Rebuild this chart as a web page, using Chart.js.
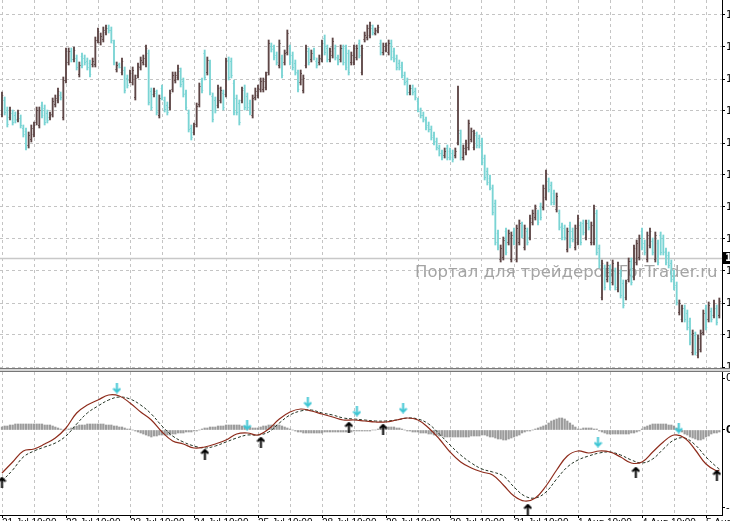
<!DOCTYPE html>
<html>
<head>
<meta charset="utf-8">
<script src="https://cdn.jsdelivr.net/npm/chart.js@4.4.0/dist/chart.umd.min.js"></script>
<style>
html, body { margin: 0; padding: 0; background: #fff; overflow: hidden; }
canvas { display: block; }
</style>
</head>
<body>
<canvas id="priceChart" width="730" height="370"></canvas>
<canvas id="oscChart" width="730" height="151"></canvas>
<script>
// bars, one per hour
var highs = [1.3908,1.3903,1.3893,1.3893,1.3890,1.3888,1.3890,1.3885,1.3875,1.3872,
1.3868,1.3875,1.3878,1.3893,1.3893,1.3898,1.3895,1.3890,1.3888,1.3902,
1.3905,1.3912,1.3908,1.3923,1.3952,1.3952,1.3952,1.3953,1.3945,1.3938,
1.3947,1.3945,1.3942,1.3940,1.3942,1.3963,1.3972,1.3967,1.3973,1.3975,
1.3975,1.3973,1.3960,1.3938,1.3937,1.3942,1.3933,1.3925,1.3930,1.3933,
1.3925,1.3937,1.3943,1.3945,1.3955,1.3950,1.3912,1.3912,1.3910,1.3905,
1.3915,1.3903,1.3898,1.3910,1.3928,1.3928,1.3935,1.3932,1.3922,1.3910,
1.3890,1.3875,1.3877,1.3897,1.3917,1.3922,1.3950,1.3943,1.3940,1.3907,
1.3903,1.3915,1.3913,1.3910,1.3942,1.3943,1.3942,1.3920,1.3905,1.3900,
1.3913,1.3915,1.3907,1.3900,1.3905,1.3912,1.3915,1.3922,1.3922,1.3928,
1.3960,1.3957,1.3955,1.3948,1.3960,1.3945,1.3950,1.3970,1.3955,1.3948,
1.3940,1.3930,1.3930,1.3925,1.3955,1.3952,1.3950,1.3952,1.3942,1.3945,
1.3960,1.3965,1.3955,1.3952,1.3962,1.3955,1.3945,1.3955,1.3955,1.3955,
1.3950,1.3948,1.3955,1.3955,1.3960,1.3955,1.3968,1.3975,1.3978,1.3975,
1.3972,1.3975,1.3960,1.3957,1.3957,1.3960,1.3960,1.3952,1.3945,1.3940,
1.3938,1.3928,1.3922,1.3915,1.3915,1.3912,1.3902,1.3892,1.3888,1.3883,
1.3878,1.3874,1.3868,1.3862,1.3855,1.3850,1.3852,1.3855,1.3852,1.3850,
1.3852,1.3914,1.3870,1.3855,1.3860,1.3880,1.3872,1.3870,1.3868,1.3865,
1.3862,1.3845,1.3832,1.3825,1.3815,1.3800,1.3770,1.3755,1.3763,1.3772,
1.3770,1.3768,1.3772,1.3775,1.3780,1.3778,1.3775,1.3772,1.3785,1.3790,
1.3795,1.3790,1.3797,1.3815,1.3830,1.3822,1.3818,1.3810,1.3807,1.3790,
1.3777,1.3775,1.3772,1.3778,1.3772,1.3775,1.3785,1.3778,1.3780,1.3780,
1.3780,1.3778,1.3795,1.3790,1.3755,1.3740,1.3735,1.3738,1.3735,1.3740,
1.3732,1.3738,1.3730,1.3720,1.3720,1.3742,1.3742,1.3755,1.3760,1.3765,
1.3772,1.3760,1.3768,1.3772,1.3762,1.3768,1.3760,1.3768,1.3765,1.3752,
1.3748,1.3740,1.3730,1.3718,1.3700,1.3695,1.3695,1.3690,1.3682,1.3670,
1.3668,1.3665,1.3670,1.3690,1.3695,1.3698,1.3692,1.3700,1.3695,1.3702];

var lows = [1.3883,1.3885,1.3873,1.3880,1.3875,1.3877,1.3878,1.3872,1.3863,1.3850,
1.3852,1.3858,1.3863,1.3875,1.3872,1.3882,1.3875,1.3877,1.3880,1.3883,
1.3893,1.3897,1.3900,1.3880,1.3917,1.3935,1.3938,1.3938,1.3930,1.3923,
1.3932,1.3935,1.3930,1.3923,1.3933,1.3933,1.3957,1.3955,1.3958,1.3965,
1.3967,1.3957,1.3935,1.3928,1.3932,1.3925,1.3907,1.3912,1.3917,1.3915,
1.3900,1.3922,1.3930,1.3935,1.3933,1.3895,1.3890,1.3903,1.3885,1.3882,
1.3900,1.3888,1.3885,1.3890,1.3908,1.3917,1.3920,1.3913,1.3903,1.3890,
1.3868,1.3860,1.3865,1.3873,1.3893,1.3907,1.3920,1.3925,1.3905,1.3878,
1.3887,1.3892,1.3897,1.3890,1.3903,1.3920,1.3922,1.3885,1.3885,1.3875,
1.3897,1.3890,1.3890,1.3885,1.3882,1.3900,1.3902,1.3908,1.3908,1.3910,
1.3925,1.3948,1.3940,1.3935,1.3932,1.3922,1.3935,1.3945,1.3935,1.3930,
1.3925,1.3908,1.3915,1.3907,1.3932,1.3935,1.3938,1.3940,1.3932,1.3935,
1.3938,1.3945,1.3938,1.3938,1.3942,1.3940,1.3935,1.3938,1.3935,1.3930,
1.3925,1.3935,1.3935,1.3940,1.3942,1.3925,1.3958,1.3960,1.3962,1.3965,
1.3965,1.3967,1.3945,1.3945,1.3948,1.3945,1.3940,1.3938,1.3930,1.3930,
1.3922,1.3915,1.3905,1.3905,1.3905,1.3900,1.3888,1.3882,1.3878,1.3870,
1.3868,1.3860,1.3855,1.3850,1.3844,1.3840,1.3842,1.3840,1.3840,1.3838,
1.3842,1.3855,1.3840,1.3840,1.3845,1.3850,1.3858,1.3850,1.3852,1.3852,
1.3835,1.3820,1.3815,1.3810,1.3785,1.3755,1.3750,1.3738,1.3740,1.3745,
1.3755,1.3738,1.3755,1.3738,1.3755,1.3762,1.3750,1.3755,1.3760,1.3775,
1.3780,1.3775,1.3780,1.3790,1.3800,1.3808,1.3795,1.3795,1.3788,1.3770,
1.3760,1.3760,1.3748,1.3752,1.3758,1.3750,1.3755,1.3755,1.3765,1.3760,
1.3770,1.3755,1.3755,1.3745,1.3732,1.3700,1.3710,1.3718,1.3710,1.3715,
1.3710,1.3708,1.3702,1.3692,1.3700,1.3718,1.3715,1.3720,1.3735,1.3740,
1.3750,1.3745,1.3738,1.3752,1.3745,1.3738,1.3735,1.3745,1.3745,1.3735,
1.3732,1.3718,1.3710,1.3695,1.3685,1.3678,1.3678,1.3670,1.3655,1.3645,
1.3645,1.3642,1.3648,1.3665,1.3670,1.3678,1.3678,1.3682,1.3675,1.3682];

var opens = [1.3886,1.3900,1.3890,1.3883,1.3887,1.3885,1.3881,1.3882,1.3872,1.3869,
1.3855,1.3861,1.3866,1.3878,1.3875,1.3895,1.3892,1.3887,1.3883,1.3886,
1.3896,1.3900,1.3905,1.3883,1.3920,1.3938,1.3949,1.3941,1.3942,1.3926,
1.3944,1.3942,1.3939,1.3937,1.3936,1.3936,1.3960,1.3958,1.3961,1.3968,
1.3972,1.3970,1.3957,1.3931,1.3936,1.3928,1.3930,1.3922,1.3920,1.3918,
1.3903,1.3925,1.3933,1.3938,1.3936,1.3947,1.3909,1.3906,1.3907,1.3885,
1.3912,1.3900,1.3895,1.3893,1.3911,1.3920,1.3923,1.3929,1.3919,1.3907,
1.3887,1.3872,1.3868,1.3876,1.3896,1.3919,1.3947,1.3928,1.3937,1.3904,
1.3900,1.3895,1.3900,1.3907,1.3906,1.3940,1.3939,1.3917,1.3902,1.3897,
1.3900,1.3912,1.3904,1.3897,1.3885,1.3903,1.3905,1.3911,1.3911,1.3913,
1.3928,1.3954,1.3952,1.3945,1.3935,1.3942,1.3938,1.3948,1.3952,1.3945,
1.3937,1.3927,1.3918,1.3910,1.3935,1.3949,1.3941,1.3949,1.3939,1.3938,
1.3941,1.3962,1.3952,1.3941,1.3945,1.3952,1.3942,1.3941,1.3952,1.3952,
1.3947,1.3938,1.3938,1.3943,1.3957,1.3928,1.3961,1.3963,1.3965,1.3972,
1.3967,1.3969,1.3957,1.3948,1.3950,1.3948,1.3957,1.3949,1.3942,1.3937,
1.3935,1.3925,1.3919,1.3908,1.3912,1.3909,1.3899,1.3889,1.3885,1.3880,
1.3875,1.3871,1.3865,1.3859,1.3852,1.3847,1.3845,1.3852,1.3849,1.3847,
1.3845,1.3858,1.3867,1.3843,1.3848,1.3853,1.3861,1.3853,1.3865,1.3862,
1.3859,1.3842,1.3829,1.3822,1.3812,1.3797,1.3767,1.3741,1.3743,1.3769,
1.3758,1.3741,1.3769,1.3741,1.3758,1.3775,1.3753,1.3769,1.3763,1.3778,
1.3783,1.3787,1.3794,1.3793,1.3803,1.3819,1.3815,1.3807,1.3791,1.3787,
1.3774,1.3772,1.3751,1.3775,1.3769,1.3753,1.3758,1.3775,1.3777,1.3763,
1.3777,1.3758,1.3758,1.3787,1.3752,1.3703,1.3732,1.3721,1.3732,1.3718,
1.3729,1.3711,1.3727,1.3717,1.3703,1.3721,1.3739,1.3723,1.3738,1.3743,
1.3769,1.3757,1.3741,1.3755,1.3759,1.3741,1.3757,1.3765,1.3762,1.3749,
1.3745,1.3737,1.3727,1.3715,1.3688,1.3681,1.3692,1.3687,1.3679,1.3648,
1.3665,1.3645,1.3651,1.3668,1.3692,1.3681,1.3689,1.3685,1.3692,1.3685];

var closes = [1.3905,1.3888,1.3876,1.3890,1.3878,1.3880,1.3887,1.3875,1.3866,1.3853,
1.3865,1.3872,1.3875,1.3890,1.3890,1.3885,1.3878,1.3880,1.3885,1.3899,
1.3902,1.3909,1.3903,1.3920,1.3949,1.3949,1.3941,1.3950,1.3933,1.3935,
1.3935,1.3938,1.3933,1.3926,1.3939,1.3960,1.3969,1.3964,1.3970,1.3972,
1.3970,1.3960,1.3938,1.3935,1.3933,1.3939,1.3910,1.3915,1.3927,1.3930,
1.3922,1.3934,1.3940,1.3942,1.3952,1.3898,1.3893,1.3909,1.3888,1.3902,
1.3903,1.3891,1.3888,1.3907,1.3925,1.3925,1.3932,1.3916,1.3906,1.3893,
1.3871,1.3863,1.3874,1.3894,1.3914,1.3910,1.3923,1.3940,1.3908,1.3881,
1.3890,1.3912,1.3910,1.3893,1.3939,1.3923,1.3925,1.3888,1.3888,1.3878,
1.3910,1.3893,1.3893,1.3888,1.3902,1.3909,1.3912,1.3919,1.3919,1.3925,
1.3957,1.3951,1.3943,1.3938,1.3957,1.3925,1.3947,1.3967,1.3938,1.3933,
1.3928,1.3911,1.3927,1.3922,1.3952,1.3938,1.3947,1.3943,1.3935,1.3942,
1.3957,1.3948,1.3941,1.3949,1.3959,1.3943,1.3938,1.3952,1.3938,1.3933,
1.3928,1.3945,1.3952,1.3952,1.3945,1.3952,1.3965,1.3972,1.3975,1.3968,
1.3970,1.3973,1.3948,1.3954,1.3955,1.3957,1.3943,1.3941,1.3933,1.3933,
1.3925,1.3918,1.3908,1.3912,1.3908,1.3903,1.3891,1.3885,1.3881,1.3873,
1.3871,1.3863,1.3858,1.3853,1.3847,1.3843,1.3849,1.3843,1.3843,1.3841,
1.3849,1.3870,1.3843,1.3852,1.3857,1.3877,1.3869,1.3867,1.3855,1.3855,
1.3838,1.3823,1.3818,1.3813,1.3788,1.3758,1.3753,1.3752,1.3760,1.3748,
1.3767,1.3765,1.3758,1.3772,1.3777,1.3765,1.3772,1.3758,1.3782,1.3787,
1.3792,1.3778,1.3783,1.3812,1.3827,1.3811,1.3798,1.3798,1.3804,1.3773,
1.3763,1.3763,1.3769,1.3755,1.3761,1.3772,1.3782,1.3758,1.3768,1.3777,
1.3773,1.3775,1.3792,1.3748,1.3735,1.3737,1.3713,1.3735,1.3713,1.3737,
1.3713,1.3735,1.3705,1.3695,1.3717,1.3739,1.3718,1.3752,1.3757,1.3762,
1.3753,1.3748,1.3765,1.3769,1.3748,1.3765,1.3738,1.3748,1.3748,1.3738,
1.3735,1.3721,1.3713,1.3698,1.3697,1.3692,1.3681,1.3673,1.3658,1.3667,
1.3648,1.3662,1.3667,1.3687,1.3673,1.3695,1.3681,1.3697,1.3678,1.3699];

var priceTicks = [1.3985, 1.3953, 1.3921, 1.3889, 1.3857, 1.3825, 1.3793, 1.3761, 1.3729, 1.3697, 1.3665, 1.3633];
var bidPrice = 1.3742;
var timeLabels = ['21 Jul 10:00', '22 Jul 10:00', '23 Jul 10:00', '24 Jul 10:00', '25 Jul 10:00', '28 Jul 10:00',
                  '29 Jul 10:00', '30 Jul 10:00', '31 Jul 10:00', '1 Aug 10:00', '4 Aug 10:00', '5 Aug 10:00'];

// oscillator (main + signal) sampled every 4 bars
var oscIdx = [0,4,8,12,16,20,24,28,32,36,40,44,48,52,56,60,64,68,72,76,80,84,88,92,96,100,104,108,112,116,
120,124,128,132,136,140,144,148,152,156,160,164,168,172,176,180,184,188,192,196,200,204,208,212,216,220,
224,228,232,236,240,244,248,252,256,260,264,268,269];
var mainLine = [-0.0043,-0.0032,-0.0021,-0.0019,-0.0014,-0.0008,0.0002,0.0017,0.0025,0.0030,
0.0035,0.0034,0.0027,0.0018,0.0010,-0.0002,-0.0011,-0.0014,-0.0018,-0.0017,
-0.0014,-0.0010,-0.0004,-0.0003,-0.0005,0.0001,0.0011,0.0018,0.0021,0.0019,
0.0016,0.0013,0.0010,0.0010,0.0009,0.0008,0.0008,0.0010,0.0012,0.0010,
0.0002,-0.0009,-0.0022,-0.0032,-0.0038,-0.0042,-0.0045,-0.0055,-0.0066,-0.0071,
-0.0068,-0.0056,-0.0040,-0.0026,-0.0021,-0.0023,-0.0021,-0.0022,-0.0027,-0.0033,
-0.0032,-0.0022,-0.0012,-0.0005,-0.0008,-0.0020,-0.0034,-0.0041,-0.0040];
var signalLine = [-0.0051,-0.0040,-0.0027,-0.0021,-0.0017,-0.0013,-0.0006,0.0006,0.0017,0.0024,
0.0030,0.0033,0.0031,0.0025,0.0016,0.0004,-0.0006,-0.0012,-0.0016,-0.0018,
-0.0016,-0.0012,-0.0008,-0.0005,-0.0005,-0.0002,0.0007,0.0015,0.0019,0.0020,
0.0017,0.0015,0.0012,0.0011,0.0010,0.0009,0.0009,0.0010,0.0012,0.0011,
0.0006,-0.0004,-0.0015,-0.0025,-0.0033,-0.0039,-0.0042,-0.0046,-0.0057,-0.0066,
-0.0068,-0.0062,-0.0049,-0.0037,-0.0030,-0.0026,-0.0023,-0.0022,-0.0025,-0.0030,
-0.0033,-0.0029,-0.0019,-0.0010,-0.0008,-0.0015,-0.0027,-0.0037,-0.0039];

// histogram, one value per bar
var histValues = [0.0003,0.0004,0.0004,0.0005,0.0005,0.0006,0.0006,0.0006,0.0006,0.0006,
0.0006,0.0006,0.0006,0.0006,0.0006,0.0006,0.0005,0.0005,0.0005,0.0004,
0.0003,0.0002,0.0001,0,0,0.0001,0.0002,0.0003,0.0004,0.0005,
0.0005,0.0005,0.0006,0.0006,0.0006,0.0006,0.0006,0.0006,0.0006,0.0005,
0.0005,0.0005,0.0004,0.0004,0.0003,0.0003,0.0002,0.0001,0.0001,0,
-0.0001,-0.0002,-0.0003,-0.0004,-0.0005,-0.0006,-0.0007,-0.0006,-0.0006,-0.0005,
-0.0005,-0.0005,-0.0005,-0.0005,-0.0004,-0.0004,-0.0003,-0.0003,-0.0003,-0.0002,
-0.0002,-0.0002,-0.0001,-0.0001,0,0.0001,0.0002,0.0002,0.0003,0.0003,
0.0003,0.0004,0.0004,0.0004,0.0005,0.0005,0.0005,0.0005,0.0005,0.0005,
0.0004,0.0004,0.0003,0.0003,0.0002,0.0002,0.0002,0.0003,0.0004,0.0004,
0.0005,0.0005,0.0005,0.0005,0.0005,0.0004,0.0003,0.0002,0.0001,0,
-0.0001,-0.0002,-0.0002,-0.0003,-0.0003,-0.0003,-0.0003,-0.0003,-0.0003,-0.0003,
-0.0003,-0.0002,-0.0002,-0.0002,-0.0002,-0.0002,-0.0002,-0.0002,-0.0002,-0.0002,
-0.0002,-0.0002,-0.0001,-0.0001,-0.0001,-0.0001,-0.0001,-0.0001,-0.0001,0,
0,0.0001,0.0001,0.0002,0.0002,0.0003,0.0003,0.0003,0.0002,0.0002,
0.0001,0,-0.0001,-0.0001,-0.0002,-0.0002,-0.0002,-0.0003,-0.0003,-0.0003,
-0.0004,-0.0004,-0.0005,-0.0005,-0.0006,-0.0006,-0.0007,-0.0007,-0.0007,-0.0007,
-0.0007,-0.0007,-0.0007,-0.0007,-0.0007,-0.0007,-0.0006,-0.0006,-0.0006,-0.0006,
-0.0005,-0.0005,-0.0006,-0.0007,-0.0007,-0.0008,-0.0009,-0.0009,-0.0010,-0.0010,
-0.0009,-0.0008,-0.0007,-0.0006,-0.0005,-0.0003,-0.0002,-0.0001,-0.0001,0,
0.0001,0.0002,0.0003,0.0004,0.0005,0.0007,0.0009,0.0010,0.0011,0.0012,
0.0012,0.0011,0.0009,0.0007,0.0005,0.0003,0.0001,0.0001,0.0002,0.0002,
0.0002,0.0002,0.0001,0.0001,-0.0001,-0.0002,-0.0003,-0.0004,-0.0004,-0.0004,
-0.0004,-0.0004,-0.0004,-0.0004,-0.0004,-0.0004,-0.0003,-0.0003,-0.0002,-0.0001,
0.0001,0.0003,0.0004,0.0005,0.0006,0.0006,0.0006,0.0006,0.0006,0.0006,
0.0005,0.0005,0.0004,0.0002,0,-0.0002,-0.0004,-0.0005,-0.0007,-0.0008,
-0.0009,-0.0010,-0.0010,-0.0009,-0.0007,-0.0006,-0.0004,-0.0003,-0.0003,-0.0002];

// signal arrows
var sellIdx = [43.1, 91.9, 114.7, 133.1, 150.4, 223.5, 253.8];
var sellVal = [0.0042, 0.0005, 0.0028, 0.0019, 0.0022, -0.0012, 0.0002];
var buyIdx = [0, 76.1, 97.1, 130.1, 142.9, 197.2, 237.7, 268.1];
var buyVal = [-0.0052, -0.0024, -0.0012, 0.0003, 0.0001, -0.0079, -0.0042, -0.0045];
var oscTicks = [-0.0078, 0, 0.0052];

var upColor = '#5e4646';
var downColor = '#7ad4d4';
var gridColor = '#c4c4c4';
var xMin = -0.75, xMax = 270;
var gridIdx = [];
for (var g = 0; g <= 264; g += 12) gridIdx.push(g);

function arrowImage(color, up) {
    var c = document.createElement('canvas');
    c.width = 9; c.height = 11;
    var g = c.getContext('2d');
    g.strokeStyle = color;
    g.lineWidth = 2;
    g.beginPath();
    if (up) {
        g.moveTo(4.5, 1.5); g.lineTo(4.5, 11);
        g.moveTo(1, 5); g.lineTo(4.5, 1.5); g.lineTo(8, 5);
    } else {
        g.moveTo(4.5, 0); g.lineTo(4.5, 9.5);
        g.moveTo(1, 6); g.lineTo(4.5, 9.5); g.lineTo(8, 6);
    }
    g.stroke();
    return c;
}

var barData = highs.map(function (h, i) { return { x: i, y: [lows[i], highs[i]] }; });
var barColors = highs.map(function (h, i) { return closes[i] >= opens[i] ? upColor : downColor; });

var ohlcTicks = {
    id: 'ohlcTicks',
    afterDatasetsDraw: function (chart) {
        var ctx = chart.ctx, x = chart.scales.x, y = chart.scales.y;
        ctx.save();
        ctx.lineWidth = 1;
        for (var i = 0; i < highs.length; i++) {
            var px = x.getPixelForValue(i);
            var yo = Math.round(y.getPixelForValue(opens[i])) + 0.5;
            var yc = Math.round(y.getPixelForValue(closes[i])) + 0.5;
            ctx.strokeStyle = barColors[i];
            ctx.beginPath();
            ctx.moveTo(px - 1.2, yo); ctx.lineTo(px, yo);
            ctx.moveTo(px, yc); ctx.lineTo(px + 1.2, yc);
            ctx.stroke();
        }
        ctx.restore();
    }
};

var background = {
    id: 'background',
    beforeDatasetsDraw: function (chart) {
        var ctx = chart.ctx, area = chart.chartArea;
        var py = Math.round(chart.scales.y.getPixelForValue(bidPrice)) + 0.5;
        ctx.save();
        ctx.strokeStyle = '#c8c8c8';
        ctx.lineWidth = 1.5;
        ctx.beginPath(); ctx.moveTo(area.left, py); ctx.lineTo(area.right, py); ctx.stroke();
        ctx.fillStyle = '#a4a4a4';
        ctx.font = '16.5px "DejaVu Sans"';
        ctx.textBaseline = 'alphabetic';
        ctx.fillText('Портал для трейдеров ForTrader.ru', 415, 277);
        ctx.restore();
    },
    afterDraw: function (chart) {
        var ctx = chart.ctx, area = chart.chartArea;
        var py = Math.round(chart.scales.y.getPixelForValue(bidPrice));
        ctx.save();
        ctx.fillStyle = '#000';
        ctx.fillRect(area.right + 1, py - 6, 10, 12);
        ctx.fillStyle = '#fff';
        ctx.font = 'bold 10px "DejaVu Sans"';
        ctx.textBaseline = 'middle';
        ctx.fillText(bidPrice.toFixed(4), area.right + 3, py);
        // panel separator
        ctx.fillStyle = '#777';
        ctx.fillRect(0, 368, 730, 1);
        ctx.fillStyle = '#d6d6d6';
        ctx.fillRect(0, 369, 730, 1);
        ctx.restore();
    }
};

new Chart(document.getElementById('priceChart').getContext('2d'), {
    type: 'bar',
    data: {
        datasets: [{
            data: barData,
            backgroundColor: barColors,
            barThickness: 1.2,
            grouped: false
        }]
    },
    options: {
        responsive: false,
        animation: false,
        layout: { padding: 0, autoPadding: false },
        plugins: { legend: { display: false }, tooltip: { enabled: false } },
        scales: {
            x: {
                type: 'linear', min: xMin, max: xMax, offset: false,
                afterBuildTicks: function (s) { s.ticks = gridIdx.map(function (v) { return { value: v }; }); },
                afterFit: function (s) { s.height = 2; s.paddingLeft = 0; s.paddingRight = 0; },
                ticks: { display: false },
                grid: { color: gridColor, drawTicks: false, offset: false },
                border: { display: false, dash: [3, 3] }
            },
            y: {
                position: 'right', min: 1.3632, max: 1.4000,
                afterBuildTicks: function (s) { s.ticks = priceTicks.map(function (v) { return { value: v }; }); },
                afterFit: function (s) { s.width = 8; s.paddingTop = 0; s.paddingBottom = 0; },
                ticks: { color: '#000', padding: 1, font: { family: 'DejaVu Sans', size: 10 },
                         callback: function (v) { return v.toFixed(4); } },
                grid: { color: gridColor, tickColor: '#000', tickLength: 3, tickBorderDash: [] },
                border: { display: true, color: '#000', dash: [3, 3] }
            }
        }
    },
    plugins: [background, ohlcTicks]
});

var oscFrame = {
    id: 'oscFrame',
    afterDraw: function (chart) {
        var ctx = chart.ctx;
        ctx.save();
        ctx.fillStyle = '#d6d6d6';
        ctx.fillRect(0, 0, 730, 1);
        ctx.fillStyle = '#777';
        ctx.fillRect(0, 1, 730, 1);
        ctx.restore();
    }
};

new Chart(document.getElementById('oscChart').getContext('2d'), {
    type: 'bar',
    data: {
        datasets: [
            {
                type: 'scatter',
                data: sellIdx.map(function (v, i) { return { x: v, y: sellVal[i] }; }),
                pointStyle: arrowImage('#3fc6d4', false),
                pointRadius: 5
            },
            {
                type: 'scatter',
                data: buyIdx.map(function (v, i) { return { x: v, y: buyVal[i] }; }),
                pointStyle: arrowImage('#000', true),
                pointRadius: 5
            },
            {
                type: 'line',
                data: oscIdx.map(function (v, i) { return { x: v, y: mainLine[i] }; }),
                borderColor: '#8e2c1c',
                borderWidth: 1.2,
                pointRadius: 0,
                tension: 0.4
            },
            {
                type: 'line',
                data: oscIdx.map(function (v, i) { return { x: v, y: signalLine[i] }; }),
                borderColor: '#253525',
                borderWidth: 1,
                borderDash: [3, 2],
                pointRadius: 0,
                tension: 0.4
            },
            {
                data: histValues.map(function (v, i) { return { x: i, y: v }; }),
                backgroundColor: '#9c9c9c',
                barThickness: 1.6,
                grouped: false
            }
        ]
    },
    options: {
        responsive: false,
        animation: false,
        layout: { padding: { top: 2, left: 0, right: 0, bottom: 0 }, autoPadding: false },
        plugins: { legend: { display: false }, tooltip: { enabled: false } },
        scales: {
            x: {
                type: 'linear', min: xMin, max: xMax, offset: false,
                afterBuildTicks: function (s) { s.ticks = gridIdx.map(function (v) { return { value: v }; }); },
                afterFit: function (s) { s.height = 6; s.paddingLeft = 0; s.paddingRight = 0; },
                ticks: {
                    autoSkip: false, maxRotation: 0, align: 'start', padding: -1, color: '#000',
                    font: { family: 'Liberation Sans', size: 10 },
                    callback: function (v, idx) { return idx % 2 === 0 ? timeLabels[idx / 2] : ''; }
                },
                grid: {
                    color: gridColor, tickLength: 3, offset: false, tickBorderDash: [],
                    tickColor: function (c) { return c.index % 2 === 0 ? '#000' : 'rgba(0,0,0,0)'; }
                },
                border: { display: true, color: '#000', dash: [3, 3] }
            },
            y: {
                position: 'right', min: -0.0085, max: 0.0058,
                afterBuildTicks: function (s) { s.ticks = oscTicks.map(function (v) { return { value: v }; }); },
                afterFit: function (s) { s.width = 8; s.paddingTop = 0; s.paddingBottom = 0; },
                ticks: {
                    color: '#000', padding: 1,
                    font: function (c) { return { family: 'DejaVu Sans', size: 10, weight: c.tick && c.tick.value === 0 ? 'bold' : 'normal' }; },
                    callback: function (v) { return v.toFixed(4); }
                },
                grid: { drawOnChartArea: false, tickColor: '#000', tickLength: 3 },
                border: { display: true, color: '#000' }
            }
        }
    },
    plugins: [oscFrame]
});
</script>
</body>
</html>
